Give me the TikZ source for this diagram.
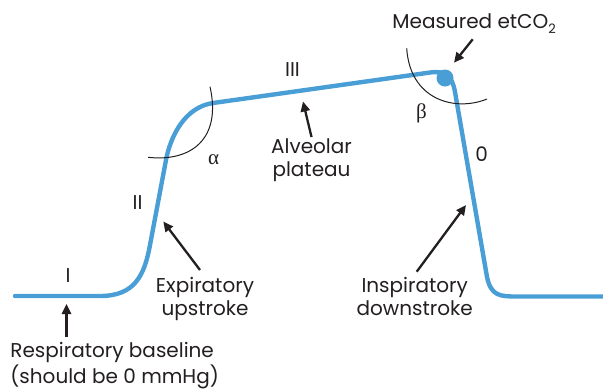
\documentclass[tikz,border=0pt]{standalone}
\usepackage{fontspec}
\setmainfont{Poppins}
\newfontfamily\greekfont{Liberation Serif}
\usetikzlibrary{arrows.meta}
\definecolor{capblue}{RGB}{74,158,214}
\definecolor{ink}{RGB}{35,31,32}
\tikzset{>={Triangle[length=5pt,width=4.6pt]},every node/.style={font=\fontsize{10}{11.5}\selectfont,text=ink,inner sep=0pt},
trace/.style={capblue,line width=2.2pt,line join=round,line cap=round},pointer/.style={->,line width=1.15pt,ink},angarc/.style={line width=.5pt,ink},
greek/.style={font=\fontsize{10.5}{12}\greekfont}}

\begin{document}
\begin{tikzpicture}[x=.5pt,y=-.5pt]
\useasboundingbox (0,0) rectangle (603,388);
\draw[trace] (15,296)--(100,296) .. controls (135,296) and (144.5,275) .. (150,245)--(166,160)
  .. controls (170.5,136) and (185,107) .. (213,103)--(430,72.5) .. controls (445,70.5) and (452,75) .. (455,92)
  --(487,277) .. controls (491,296) and (500,296.5) .. (517,296.5)--(603,296.5);
\node[circle,fill=capblue,minimum size=8.5pt] (etco) at (445,78){};
\draw[angarc] (210,86.7) .. controls (222,140) and (190,162) .. (148,157.3);
\draw[angarc] (406.7,48.3) .. controls (410,100) and (455,112) .. (487,99);
\node (phI) at (68,276){I};\node (phII) at (137.5,202.5){II};\node (phIII) at (292.5,70){III};
\node (ph0) at (481.7,153.7){0};
\node[greek] (alpha) at (213.5,160){α};\node[greek] (beta) at (421.5,113){β};
\node[anchor=base west] (meas) at (392,28.3){Measured etCO\raisebox{-.5ex}{\fontsize{6.5}{7}\selectfont 2}};
\node[align=center,anchor=north] (alv) at (311.5,138.5){Alveolar\\plateau};
\node[align=center,anchor=north] (expi) at (205,276.5){Expiratory\\upstroke};
\node[align=center,anchor=north] (insp) at (414.7,277){Inspiratory\\downstroke};
\node[align=left,anchor=north west] (base) at (10,341.5){Respiratory baseline\\(should be 0 mmHg)};
\coordinate (measTail) at (472.7,39.3);\coordinate (measTip) at (454,62.7);
\coordinate (alvTail) at (311.5,137);\coordinate (alvTip) at (303,101.5);
\coordinate (expTail) at (200,270);\coordinate (expTip) at (163.3,221.5);
\coordinate (inspTail) at (416.7,271.7);\coordinate (inspTip) at (466,205);
\coordinate (baseTail) at (66.5,337);\coordinate (baseTip) at (66.5,304);
\draw[pointer] (measTail)--(measTip);\draw[pointer] (alvTail)--(alvTip);
\draw[pointer] (expTail)--(expTip);\draw[pointer] (inspTail)--(inspTip);
\draw[pointer] (baseTail)--(baseTip);
\end{tikzpicture}
\end{document}
